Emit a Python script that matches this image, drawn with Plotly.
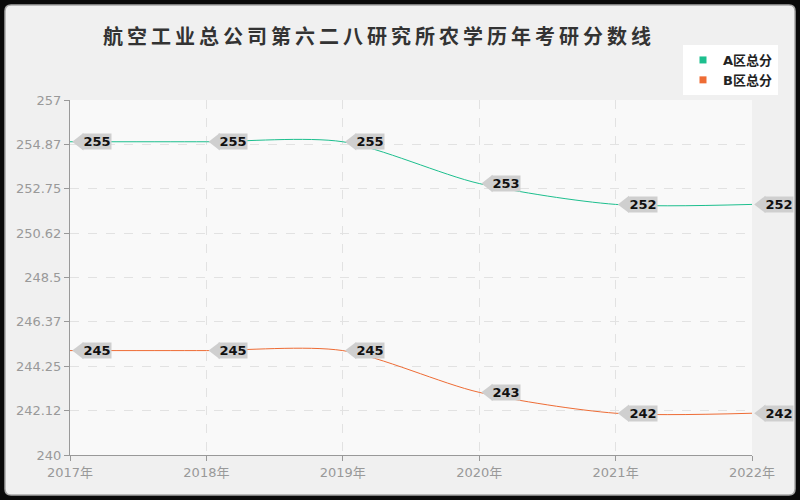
import plotly.graph_objects as go

years = ["2017年", "2018年", "2019年", "2020年", "2021年", "2022年"]
a_scores = [255, 255, 255, 253, 252, 252]
b_scores = [245, 245, 245, 243, 242, 242]
y_ticks = [240, 242.125, 244.25, 246.375, 248.5, 250.625, 252.75, 254.875, 257]
y_tick_labels = ["240", "242.12", "244.25", "246.37", "248.5", "250.62", "252.75", "254.87", "257"]
title_text = "航空工业总公司第六二八研究所农学历年考研分数线"

xs = list(range(len(years)))
green = "#1dbf8e"
orange = "#ee6c35"
cjk = "Noto Sans CJK SC, sans-serif"
font = "DejaVu Sans, Noto Sans CJK SC, sans-serif"

L, R, T, B = 70, 48, 100, 45
W, H = 800, 500
pw, ph = W - L - R, H - T - B
tri_size = 15
tri_shift = (tri_size / 2) * 2 / 3 ** 0.5 + 1  # px so the tip sits at the point


def px(x):
    return (x - L) / pw


def py(y):
    return (H - B - y) / ph


fig = go.Figure()
for name, vals, col in [("A区总分", a_scores, green), ("B区总分", b_scores, orange)]:
    fig.add_trace(go.Scatter(x=xs, y=vals, mode="lines", name=name,
                             line=dict(color=col, width=1, shape="spline", smoothing=0.8),
                             showlegend=False, hoverinfo="skip"))
    fig.add_trace(go.Scatter(x=[None], y=[None], mode="markers", name=name,
                             marker=dict(symbol="square", size=7, color=col)))
    fig.add_trace(go.Scatter(x=xs, y=vals, mode="markers", showlegend=False,
                             hoverinfo="skip", cliponaxis=False,
                             marker=dict(symbol="triangle-up", angle=-90, standoff=tri_shift,
                                         size=tri_size, color="#cfcfcf", line=dict(width=0))))
    for x, v in zip(xs, vals):
        fig.add_annotation(x=x, y=v, text="<b>%d</b>" % v, showarrow=False, xanchor="left",
                           xshift=12, bgcolor="#cfcfcf", borderpad=0, height=15, width=28,
                           font=dict(family=font, size=13, color="#111"))

# outer rounded panel
x0, x1, y0, y1, r = px(5), px(795), py(495), py(5), 6
rx, ry = r / pw, r / ph
path = (f"M {x0+rx} {y1} L {x1-rx} {y1} Q {x1} {y1} {x1} {y1-ry} L {x1} {y0+ry} "
        f"Q {x1} {y0} {x1-rx} {y0} L {x0+rx} {y0} Q {x0} {y0} {x0} {y0+ry} "
        f"L {x0} {y1-ry} Q {x0} {y1} {x0+rx} {y1} Z")
fig.add_shape(type="path", path=path, xref="paper", yref="paper", layer="below",
              fillcolor="#f0f0f0", line=dict(color="#a8a8a8", width=1.5))
fig.add_shape(type="rect", x0=0, x1=1, y0=0, y1=1, xref="paper", yref="paper", layer="below",
              fillcolor="#f9f9f9", line=dict(width=0))

fig.update_layout(
    width=W, height=H,
    paper_bgcolor="#0a0a0a", plot_bgcolor="rgba(0,0,0,0)",
    margin=dict(l=L, r=R, t=T, b=B),
    title=dict(text='<span style="letter-spacing:4px"><b>%s</b></span>' % title_text, x=103 / W,
               xanchor="left", y=1 - 37 / H, yanchor="middle",
               font=dict(family=cjk, size=20, color="#333")),
    legend=dict(x=px(683), y=py(45), xanchor="left", yanchor="top", bgcolor="#ffffff",
                font=dict(family=font, size=13, color="#222", weight="bold"),
                itemwidth=30, tracegroupgap=0),
    xaxis=dict(range=[0, 5], tickvals=xs, ticktext=years, showgrid=True, gridcolor="#e2e2e2",
               griddash="dash", showline=True, linecolor="#999", ticks="outside", ticklen=5,
               tickcolor="#999", zeroline=False, tickfont=dict(family=font, size=13, color="#999")),
    yaxis=dict(range=[240, 257], tickvals=y_ticks, ticktext=y_tick_labels, showgrid=True,
               gridcolor="#e2e2e2", griddash="dash", showline=True, linecolor="#999",
               ticks="outside", ticklen=5, tickcolor="#999", zeroline=False,
               tickfont=dict(family=font, size=13, color="#999")),
)
fig.write_html("out.html", config={"displayModeBar": False},
               post_script="document.body.style.margin='0';")
